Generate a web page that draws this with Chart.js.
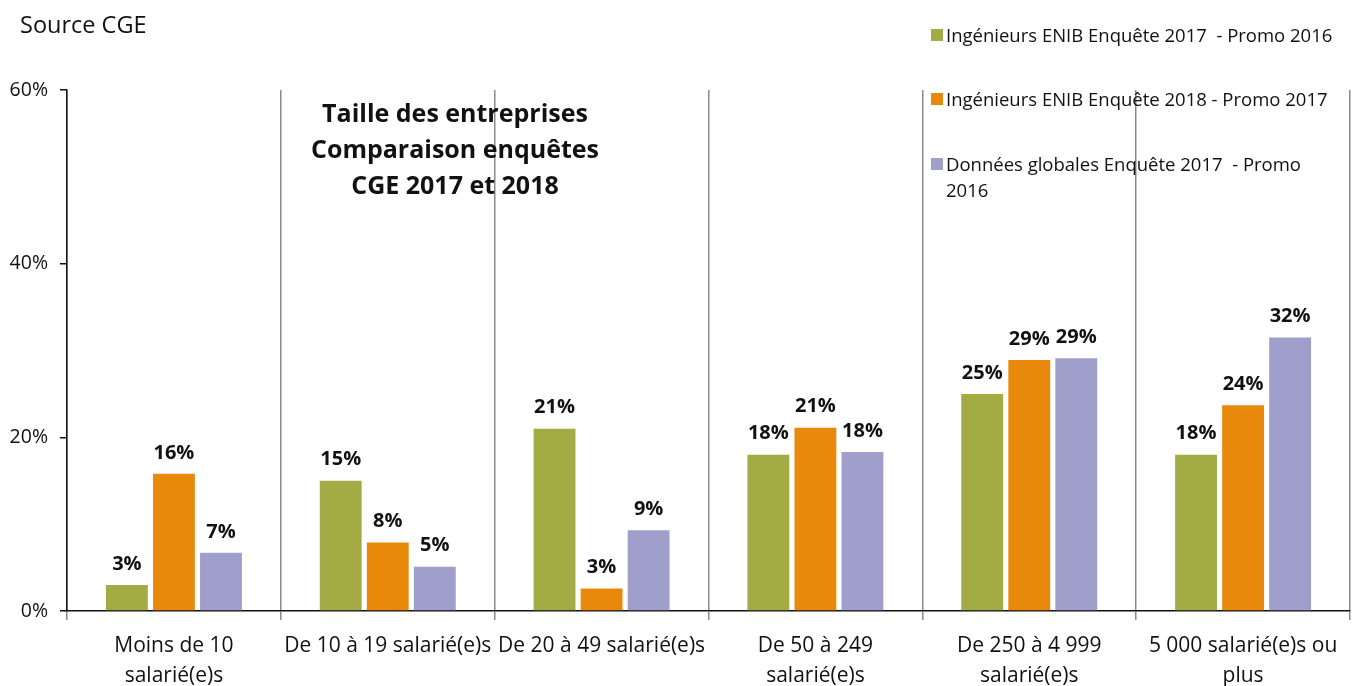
<!DOCTYPE html>
<html>
<head>
<meta charset="utf-8">
<script src="https://cdn.jsdelivr.net/npm/chart.js@4"></script>
<style>
    body { margin: 0; background: #fff; font-family: 'Open Sans', sans-serif; color: #111; }
    #wrap { position: relative; width: 1352px; height: 686px; }
    #source { position: absolute; left: 20px; top: 8px; font-size: 23.5px; line-height: 32px; }
    #title { position: absolute; left: 280px; top: 94px; width: 350px; text-align: center; font-weight: bold; font-size: 25px; line-height: 36px; }
    #legend { position: absolute; left: 931px; top: 22px; width: 420px; font-size: 18.5px; }
    .item { position: absolute; left: 0; width: 415px; line-height: 26px; }
    .box { position: absolute; left: 0; top: 7px; width: 12px; height: 12px; }
    .lbl { margin-left: 15px; display: block; width: 393px; }
</style>
</head>
<body>
<div id="wrap">
    <canvas id="chart" width="1352" height="686"></canvas>
    <div id="source">Source CGE</div>
    <div id="title">Taille des entreprises<br>Comparaison enquêtes<br>CGE 2017 et 2018</div>
    <div id="legend"></div>
</div>
<script>
const categories = [
    ['Moins de 10', 'salarié(e)s'],
    'De 10 à 19 salarié(e)s',
    'De 20 à 49 salarié(e)s',
    ['De 50 à 249', 'salarié(e)s'],
    ['De 250 à 4 999', 'salarié(e)s'],
    ['5 000 salarié(e)s ou', 'plus']
]
const seriesNames = [
    'Ingénieurs ENIB Enquête 2017\u00a0 - Promo 2016',
    'Ingénieurs ENIB Enquête 2018 - Promo 2017',
    'Données globales Enquête 2017\u00a0 - Promo 2016'
]
const enib2017 = [3.0, 15.0, 21.0, 18.0, 25.0, 18.0]
const enib2018 = [15.8, 7.9, 2.6, 21.1, 28.9, 23.7]
const global2017 = [6.7, 5.1, 9.3, 18.3, 29.1, 31.5]
const yTicks = [0, 20, 40, 60]
const colors = ['#A3AB44', '#E8890C', '#A09ECB']

const seriesValues = [enib2017, enib2018, global2017]

// legende en html
const legend = document.getElementById('legend')
const legendTops = [0, 64, 129]
seriesNames.forEach((name, i) => {
    const item = document.createElement('div')
    item.className = 'item'
    item.style.top = legendTops[i] + 'px'
    item.innerHTML = `<span class="box" style="background:${colors[i]}"></span><span class="lbl">${name}</span>`
    legend.append(item)
})

// etiquettes au-dessus des barres
const barLabels = {
    id: 'barLabels',
    afterDatasetsDraw(chart) {
        const ctx = chart.ctx
        ctx.save()
        ctx.font = 'bold 20px "Open Sans"'
        ctx.fillStyle = '#111'
        ctx.textAlign = 'center'
        ctx.textBaseline = 'middle'
        chart.data.datasets.forEach((ds, i) => {
            chart.getDatasetMeta(i).data.forEach((bar, j) => {
                ctx.fillText(Math.round(ds.data[j]) + '%', bar.x, bar.y - 21)
            })
        })
        ctx.restore()
    }
}

const ctx = document.getElementById('chart')
const chart = new Chart(ctx, {
    type: 'bar',
    data: {
        labels: categories,
        datasets: seriesValues.map((values, i) => ({
            label: seriesNames[i],
            data: values,
            backgroundColor: colors[i],
            categoryPercentage: 0.66,
            barPercentage: 0.89
        }))
    },
    options: {
        responsive: false,
        animation: false,
        layout: {
            padding: { top: 90, right: 2, left: 0, bottom: 0 }
        },
        plugins: {
            legend: { display: false },
            tooltip: { enabled: false }
        },
        scales: {
            y: {
                min: 0,
                max: 60,
                afterBuildTicks: (scale) => {
                    scale.ticks = yTicks.map((v) => ({ value: v }))
                },
                afterFit: (scale) => {
                    scale.width = 67
                },
                border: { color: '#111', width: 1.5 },
                grid: { drawOnChartArea: false, tickLength: 7, color: '#111', lineWidth: 1.5 },
                ticks: {
                    padding: 12,
                    color: '#111',
                    font: { family: 'Open Sans', size: 19.5 },
                    callback: (v) => v + '%'
                }
            },
            x: {
                afterFit: (scale) => {
                    scale.height = 75
                },
                border: { color: '#111', width: 1.5 },
                grid: { offset: true, color: '#8a8a8a', lineWidth: 1.5, tickLength: 9 },
                ticks: {
                    autoSkip: false,
                    maxRotation: 0,
                    padding: 11,
                    color: '#111',
                    font: { family: 'Open Sans', size: 21, lineHeight: 1.43 }
                }
            }
        }
    },
    plugins: [barLabels]
})
</script>
</body>
</html>
